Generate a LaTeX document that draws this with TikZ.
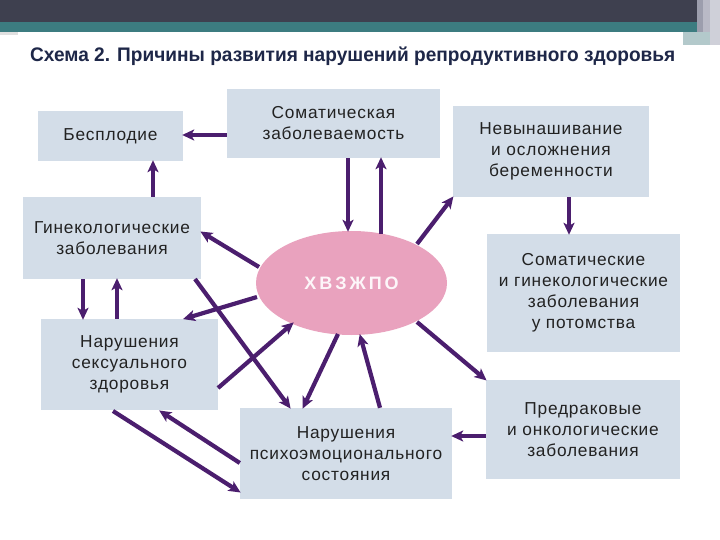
\documentclass[tikz,border=0pt]{standalone}
\usepackage{fontspec}
\setmainfont{Liberation Sans}
\newfontfamily\boxfont[LetterSpace=4.5]{Liberation Sans}
\usetikzlibrary{arrows.meta,shapes.geometric}
\definecolor{topbar}{HTML}{3E404F}
\definecolor{teal}{HTML}{3C7C80}
\definecolor{boxfill}{HTML}{D3DDE8}
\definecolor{arr}{HTML}{4B1E6E}
\definecolor{ell}{HTML}{E9A2BE}
\definecolor{ttl}{HTML}{1E2748}
\definecolor{txt}{HTML}{222222}
\definecolor{strip1}{HTML}{9C9EAD}
\definecolor{strip2}{HTML}{B9BAC6}
\definecolor{strip3}{HTML}{CFD0D9}
\definecolor{strip4}{HTML}{B3C9CB}
\tikzset{
  x=1pt,y=-1pt,
  box/.style={fill=boxfill, draw=none, inner sep=0pt, align=center,
    font=\boxfont\fontsize{17.3}{21}\selectfont, text=txt},
  con/.style={draw=arr, line width=4.2pt, -{Stealth[length=12pt,width=11pt,inset=3pt]}, shorten >=-1pt}
}
\begin{document}
\begin{tikzpicture}
\useasboundingbox (0,0) rectangle (720,540);
\fill[white] (0,0) rectangle (720,540);
% header
\fill[topbar] (0,0) rectangle (697,22);
\fill[teal] (0,22) rectangle (697,32);
\fill[black!12] (0,32) rectangle (18,35);
\fill[strip1] (697,0) rectangle (703,45);
\fill[strip2] (703,0) rectangle (710,45);
\fill[strip3] (710,0) rectangle (720,45);
\fill[strip4] (683,32) rectangle (710,45);
\fill[white] (18,32) rectangle (683,540);
% title
\node[anchor=west, text=ttl, inner sep=0pt] (title) at (30,56.5)
  {\resizebox{645pt}{14.6pt}{\bfseries Схема 2. Причины развития нарушений репродуктивного здоровья}};
% boxes
\node[box, minimum width=145, minimum height=50] (besp) at (110.5,136) {Бесплодие};
\node[box, minimum width=213, minimum height=69] (somat) at (333.5,123.5) {Соматическая\\заболеваемость};
\node[box, minimum width=196, minimum height=91] (nevyn) at (551,151.5) {Невынашивание\\и осложнения\\беременности};
\node[box, minimum width=178, minimum height=82] (gin) at (112,238) {Гинекологические\\заболевания};
\node[box, minimum width=193, minimum height=118] (potom) at (583.5,293) {Соматические\\и гинекологические\\заболевания\\у потомства};
\node[box, minimum width=177, minimum height=91] (sex) at (129.5,364.5) {Нарушения\\сексуального\\здоровья};
\node[box, minimum width=212, minimum height=91] (psy) at (346,453.5) {Нарушения\\психоэмоционального\\состояния};
\node[box, minimum width=194, minimum height=99] (onko) at (583,429.5) {Предраковые\\и онкологические\\заболевания};
% center
\node[ellipse, fill=ell, minimum width=191, minimum height=104, inner sep=0pt,
  text=white!90!ell, font=\fontsize{18}{18}\bfseries\selectfont] (hv) at (351.5,283) {Х\,В\,З\,Ж\,П\,О};
% connectors
\draw[con] (somat.west |- 0,135) -- (besp.east |- 0,135);
\draw[con] (gin.north -| 153,0) -- (besp.south -| 153,0);
\draw[con] (somat.south -| 348,0) -- (hv.north -| 348,0);
\draw[con] (hv.north -| 381,0) ++(0,3) -- (somat.south -| 381,0);
\coordinate (e1) at (417,244);
\draw[con] (e1) -- (nevyn.south west);
\draw[con] (nevyn.south -| 569,0) -- (potom.north -| 569,0);
\coordinate (g1) at (259,267);
\draw[con] (g1) -- (gin.east |- 0,232);
\coordinate (h0) at (195,279);
\draw[con] (h0) -- (psy.north -| 290,0);
\coordinate (i1) at (257,297);
\draw[con] (i1) -- (sex.north -| 184,0);
\coordinate (j0) at (218,388);
\coordinate (j1) at (293,323);
\draw[con] (j0) -- (j1);
\draw[con] (gin.south -| 83,0) -- (sex.north -| 83,0);
\draw[con] (sex.north -| 117,0) -- (gin.south -| 117,0);
\coordinate (l0) at (338,334);
\draw[con] (l0) -- (psy.north -| 303,0);
\coordinate (m1) at (360,335);
\draw[con] (psy.north -| 380,0) -- (m1);
\coordinate (n0) at (417,322);
\draw[con] (n0) -- (onko.north west);
\draw[con] (onko.west |- 0,436) -- (psy.east |- 0,436);
\coordinate (p1) at (160,411);
\draw[con] (psy.west |- 0,463) -- (p1);
\coordinate (q0) at (113,411);
\draw[con] (q0) -- (psy.west |- 0,492);
\end{tikzpicture}
\end{document}
